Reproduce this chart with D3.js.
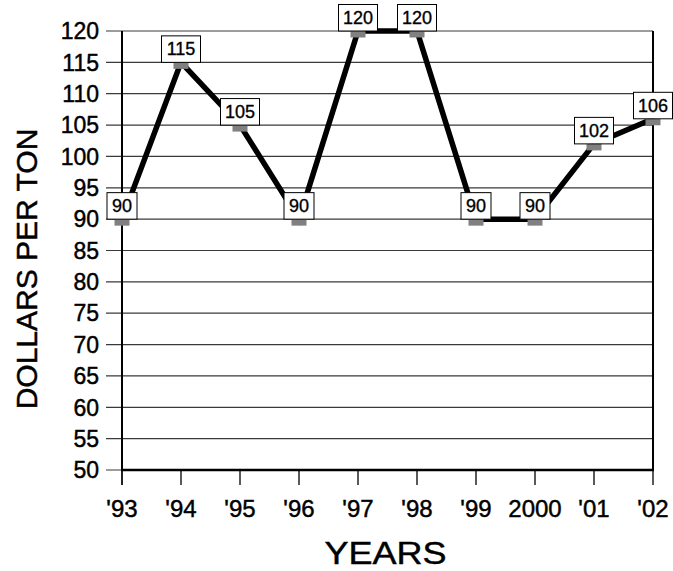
<!DOCTYPE html>
<html><head><meta charset="utf-8">
<script src="https://cdn.jsdelivr.net/npm/d3@7"></script>
<style>body{margin:0;background:#fff}svg{display:block}text{font-family:"Liberation Sans",Arial,sans-serif;fill:#000;stroke:#000;stroke-width:0.45px}</style>
</head><body>
<script>
const years = ["'93","'94","'95","'96","'97","'98","'99","2000","'01","'02"];
const prices = [90,115,105,90,120,120,90,90,102,106];
const yTicks = d3.range(50,121,5);

const W=673,H=571, L=122, R=653, T=31, B=470;
const svg=d3.select("body").append("svg").attr("width",W).attr("height",H);
const x=d3.scalePoint().domain(years).range([L,R]);
const y=d3.scaleLinear().domain([50,120]).range([B,T]);

// gridlines
svg.append("g").selectAll("line").data(yTicks).join("line")
  .attr("x1",106).attr("x2",R).attr("y1",d=>y(d)).attr("y2",d=>y(d))
  .attr("stroke","#3a3a3a").attr("stroke-width",1.2);
// y tick labels
svg.append("g").selectAll("text").data(yTicks).join("text")
  .attr("x",99).attr("y",d=>y(d)).attr("dy","0.36em").attr("text-anchor","end")
  .style("font-size","23px").text(d=>d);
// x ticks
svg.append("g").selectAll("line").data(years).join("line")
  .attr("x1",d=>x(d)).attr("x2",d=>x(d)).attr("y1",B).attr("y2",485)
  .attr("stroke","#222").attr("stroke-width",d=>d===years[0]?2:1.5);
svg.append("g").selectAll("text").data(years).join("text")
  .attr("x",d=>x(d)).attr("y",517).attr("text-anchor","middle")
  .style("font-size","24px").text(d=>d);
// axes / border
svg.append("line").attr("x1",L).attr("x2",L).attr("y1",T).attr("y2",B).attr("stroke","#000").attr("stroke-width",2);
svg.append("line").attr("x1",R).attr("x2",R).attr("y1",T).attr("y2",B).attr("stroke","#000").attr("stroke-width",2);
svg.append("line").attr("x1",L-1).attr("x2",R+1).attr("y1",B).attr("y2",B).attr("stroke","#000").attr("stroke-width",2.5);

// line
const line=d3.line().x((d,i)=>x(years[i])).y(d=>y(d));
svg.append("path").datum(prices).attr("d",line).attr("fill","none")
  .attr("stroke","#000").attr("stroke-width",5.5).attr("stroke-linejoin","miter");
// markers
svg.append("g").selectAll("rect").data(prices).join("rect")
  .attr("x",(d,i)=>x(years[i])-7.5).attr("y",d=>y(d)).attr("width",15).attr("height",6.5)
  .attr("fill","#808080");
// labels
const lg=svg.append("g").selectAll("g").data(prices).join("g")
  .attr("transform",(d,i)=>`translate(${x(years[i])},${y(d)})`);
lg.append("rect").attr("x",d=>String(d).length===3?-19.5:-15).attr("y",-26.5)
  .attr("width",d=>String(d).length===3?39:30).attr("height",26.5)
  .attr("fill","#fff").attr("stroke","#000").attr("stroke-width",1);
lg.append("text").attr("x",0).attr("y",-7).attr("text-anchor","middle")
  .style("font-size","18px").style("stroke-width","0.35px").text(d=>d);

// axis titles
svg.append("text").attr("x",(L+R)/2-2).attr("y",564).attr("text-anchor","middle")
  .attr("textLength",122).attr("lengthAdjust","spacingAndGlyphs")
  .style("font-size","32px").text("YEARS");
svg.append("text").attr("transform","translate(37,269) rotate(-90)").attr("text-anchor","middle")
  .style("font-size","30px").text("DOLLARS PER TON");
</script>
</body></html>
